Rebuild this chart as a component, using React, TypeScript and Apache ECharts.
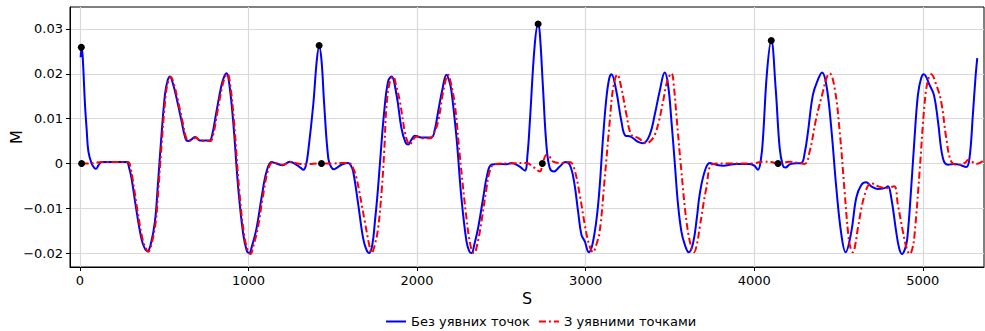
import React, { useEffect, useRef } from "react";
import * as echarts from "echarts";

// S, M pairs for the signal reconstructed without virtual points
const withoutVirtual: [number, number][] = [
  [4, 0.0237], [10, 0.0257], [16, 0.024], [30, 0.0131], [40, 0.0075], [50, 0.0027], [69, 0.0], [85, -0.001], [95, -0.0012],
  [110, -0.0004], [128, 0.0003], [170, 0.0003], [230, 0.0003], [277, 0.0003], [292, -0.001], [306, -0.0033], [336, -0.0107],
  [366, -0.017], [385, -0.019], [400, -0.0196], [420, -0.018], [445, -0.0129], [460, -0.006], [475, 0.0019], [504, 0.0153],
  [520, 0.0185], [534, 0.0194], [550, 0.018], [573, 0.0146], [603, 0.0094], [625, 0.0057], [640, 0.005], [660, 0.0053],
  [682, 0.0059], [700, 0.0054], [712, 0.0051], [767, 0.0051], [785, 0.0065], [810, 0.0116], [840, 0.0175], [858, 0.0196],
  [870, 0.0201], [885, 0.018], [909, 0.0094], [939, -0.0055], [969, -0.0159], [990, -0.0195], [1004, -0.02], [1020, -0.0185],
  [1048, -0.0144], [1077, -0.0077], [1107, -0.0018], [1137, 0.0003], [1165, 0.0], [1200, -0.0004], [1245, 0.0004],
  [1285, -0.0003], [1310, -0.001], [1325, -0.0014], [1340, -0.0005], [1354, 0.0027], [1384, 0.0131], [1405, 0.023],
  [1419, 0.0261], [1433, 0.023], [1449, 0.0131], [1473, 0.0012], [1490, -0.0008], [1508, -0.0013], [1530, -0.0008],
  [1552, -0.0003], [1591, 0.0001], [1608, -0.0005], [1621, -0.0018], [1651, -0.0092], [1680, -0.0167], [1700, -0.0193],
  [1716, -0.02], [1735, -0.018], [1750, -0.0129], [1765, -0.007], [1779, -0.0003], [1805, 0.0116], [1828, 0.0183],
  [1848, 0.0194], [1878, 0.0153], [1907, 0.0079], [1930, 0.0048], [1947, 0.0042], [1965, 0.0052], [1987, 0.0062],
  [2026, 0.0058], [2085, 0.0058], [2105, 0.0075], [2125, 0.0116], [2150, 0.0165], [2174, 0.0198], [2190, 0.0185],
  [2204, 0.0161], [2234, 0.0057], [2263, -0.0077], [2293, -0.0174], [2310, -0.0196], [2323, -0.02], [2340, -0.018],
  [2362, -0.0144], [2392, -0.0077], [2416, -0.0025], [2441, -0.0003], [2491, -0.0001], [2530, -0.0002], [2560, 0.0001],
  [2609, -0.0007], [2639, -0.0016], [2655, 0.002], [2669, 0.0094], [2698, 0.0265], [2718, 0.0311], [2728, 0.029],
  [2747, 0.0168], [2767, 0.0042], [2787, -0.001], [2813, -0.0018], [2846, -0.0007], [2880, 0.0003], [2906, -0.0003],
  [2931, -0.004], [2955, -0.0107], [2975, -0.0159], [2995, -0.0174], [3018, -0.0198], [3044, -0.0174], [3074, -0.0092],
  [3103, 0.0057], [3123, 0.0146], [3140, 0.019], [3153, 0.0199], [3182, 0.0161], [3212, 0.0094], [3236, 0.0062],
  [3267, 0.006], [3311, 0.0048], [3341, 0.0045], [3380, 0.0064], [3410, 0.0109], [3439, 0.0161], [3469, 0.0203],
  [3489, 0.0175], [3509, 0.0094], [3528, 0.0004], [3548, -0.0092], [3568, -0.0152], [3588, -0.0181], [3611, -0.0198],
  [3637, -0.0178], [3660, -0.012], [3676, -0.007], [3706, -0.0018], [3736, 0.0001], [3775, -0.0003], [3815, -0.0005],
  [3894, -0.0001], [3973, -0.0001], [4000, -0.0005], [4022, -0.0014], [4040, 0.001], [4052, 0.0057], [4076, 0.0205],
  [4101, 0.0274], [4127, 0.0168], [4151, 0.0034], [4170, -0.0005], [4186, -0.0009], [4210, -0.0002], [4230, 0.0],
  [4279, 0.0001], [4300, 0.0025], [4319, 0.0071], [4348, 0.0153], [4378, 0.0187], [4402, 0.0203], [4428, 0.0175],
  [4457, 0.0079], [4487, -0.0055], [4517, -0.0159], [4542, -0.0198], [4576, -0.0152], [4605, -0.0077], [4635, -0.0048],
  [4664, -0.0042], [4694, -0.0051], [4734, -0.0057], [4773, -0.0055], [4793, -0.0051], [4813, -0.0077], [4842, -0.0152],
  [4860, -0.019], [4876, -0.0202], [4895, -0.019], [4908, -0.0167], [4931, -0.0055], [4951, 0.0057], [4971, 0.0153],
  [4990, 0.019], [5006, 0.0199], [5040, 0.0175], [5066, 0.0153], [5090, 0.0094], [5119, 0.0012], [5149, -0.0003],
  [5188, -0.0001], [5218, -0.0003], [5258, -0.0008], [5277, 0.0012], [5297, 0.0109], [5313, 0.0194], [5323, 0.0235],
];

// S, M pairs for the signal reconstructed with virtual points
const withVirtual: [number, number][] = [
  [10, 0.0], [60, 0.0], [100, 0.0002], [150, 0.0003], [285, 0.0003], [300, -0.001], [312, -0.0033], [342, -0.0107],
  [372, -0.017], [392, -0.019], [405, -0.0197], [425, -0.018], [450, -0.0129], [465, -0.006], [480, 0.0019], [509, 0.0153],
  [525, 0.0185], [539, 0.0193], [555, 0.018], [578, 0.0146], [608, 0.0094], [630, 0.0057], [645, 0.005], [665, 0.0052],
  [687, 0.0058], [717, 0.005], [772, 0.005], [790, 0.0063], [815, 0.0114], [845, 0.0173], [863, 0.0195], [875, 0.02],
  [890, 0.018], [914, 0.0094], [944, -0.0055], [974, -0.0159], [997, -0.0196], [1012, -0.0202], [1028, -0.0185],
  [1055, -0.0144], [1084, -0.0077], [1114, -0.0018], [1142, 0.0002], [1170, 0.0], [1205, -0.0003], [1250, 0.0003],
  [1290, 0.0], [1340, -0.0002], [1400, 0.0], [1433, 0.0], [1500, 0.0], [1560, 0.0001], [1601, 0.0], [1620, -0.001],
  [1641, -0.0033], [1690, -0.013], [1715, -0.018], [1730, -0.02], [1750, -0.018], [1769, -0.0144], [1790, -0.006],
  [1805, 0.0027], [1819, 0.0131], [1840, 0.0185], [1858, 0.0194], [1875, 0.0175], [1898, 0.0138], [1927, 0.0071],
  [1945, 0.0047], [1957, 0.0042], [1975, 0.0052], [1996, 0.006], [2030, 0.0056], [2076, 0.0056], [2100, 0.0068],
  [2125, 0.0094], [2155, 0.016], [2184, 0.0198], [2200, 0.018], [2224, 0.0131], [2253, 0.0019], [2293, -0.0122],
  [2318, -0.0185], [2338, -0.02], [2360, -0.0175], [2382, -0.0129], [2410, -0.006], [2431, -0.0018], [2461, -0.0001],
  [2550, 0.0], [2649, 0.0001], [2690, -0.0008], [2728, -0.0018], [2745, 0.0], [2767, 0.0019], [2780, 0.0018],
  [2807, 0.0004], [2856, 0.0001], [2906, 0.0003], [2931, -0.001], [2965, -0.007], [2995, -0.0137], [3020, -0.018],
  [3044, -0.0198], [3060, -0.0185], [3083, -0.0152], [3113, -0.0033], [3143, 0.0094], [3163, 0.0168], [3188, 0.0198],
  [3212, 0.0168], [3242, 0.0109], [3271, 0.0064], [3311, 0.0057], [3360, 0.0045], [3385, 0.005], [3410, 0.0064],
  [3435, 0.0095], [3459, 0.0138], [3485, 0.0185], [3509, 0.0201], [3525, 0.0165], [3538, 0.0109], [3568, -0.0018],
  [3598, -0.0129], [3625, -0.0185], [3643, -0.0198], [3660, -0.018], [3676, -0.0144], [3716, -0.0055], [3755, -0.0001],
  [3850, 0.0], [3993, 0.0], [4052, 0.0004], [4100, 0.0003], [4141, 0.0], [4210, 0.0004], [4260, 0.0001], [4299, -0.0001],
  [4329, 0.0027], [4368, 0.0101], [4408, 0.0161], [4430, 0.0192], [4447, 0.0201], [4477, 0.0168], [4507, 0.0071],
  [4536, -0.0062], [4558, -0.0159], [4572, -0.019], [4585, -0.0198], [4600, -0.018], [4615, -0.0144], [4655, -0.007],
  [4694, -0.0044], [4734, -0.0051], [4783, -0.0055], [4829, -0.0051], [4852, -0.0092], [4882, -0.0152], [4905, -0.019],
  [4923, -0.0202], [4938, -0.019], [4951, -0.0159], [4981, -0.0018], [5010, 0.0131], [5030, 0.0185], [5050, 0.0199],
  [5080, 0.0175], [5109, 0.0138], [5139, 0.0057], [5169, 0.0004], [5208, -0.0003], [5248, 0.0001], [5271, 0.0008],
  [5317, -0.0001], [5366, 0.0008],
];

// Peak positions marked on the curves
const markedPoints: [number, number][] = [
  [8, 0.0259], [10, 0.0], [1419, 0.0263], [1433, 0.0], [2718, 0.0311], [2743, 0.0], [4101, 0.0274], [4141, 0.0],
];

const xTicks = [0, 1000, 2000, 3000, 4000, 5000];
const yTicks = [-0.02, -0.01, 0, 0.01, 0.02, 0.03];

const seriesNames = ["Без уявних точок", "З уявними точками"];

const FONT = "DejaVu Sans";

const fmtY = (v: number) => {
  if (Math.abs(v) < 1e-9) return "0";
  return (v < 0 ? "\u2212" : "") + Math.abs(v).toFixed(2);
};

export default function App() {
  const ref = useRef<HTMLDivElement>(null);

  useEffect(() => {
    if (!ref.current) return;
    const chart = echarts.init(ref.current, undefined, { renderer: "svg" });
    const gridLine = { show: true, lineStyle: { color: "#d9d9d9", width: 1.2 } };
    chart.setOption({
      animation: false,
      backgroundColor: "#ffffff",
      textStyle: { fontFamily: FONT },
      grid: {
        left: 70,
        right: 1,
        top: 7,
        bottom: 64,
        containLabel: false,
        outerBoundsMode: "none",
        show: true,
        borderColor: "#000",
        borderWidth: 1,
        backgroundColor: "transparent",
      },
      legend: {
        left: 380,
        top: 310,
        itemWidth: 20,
        itemHeight: 14,
        itemGap: 8,
        itemStyle: { opacity: 0 },
        textStyle: { fontFamily: FONT, fontSize: 13, color: "#000" },
        data: seriesNames,
      },
      xAxis: {
        type: "value",
        min: -59,
        max: 5363,
        name: "S",
        nameLocation: "middle",
        nameGap: 23,
        nameMoveOverlap: false,
        nameTextStyle: { fontFamily: FONT, fontSize: 16, color: "#000" },
        axisLine: { show: true, onZero: false, lineStyle: { color: "#000", width: 1 } },
        axisTick: { show: true, length: 4, customValues: xTicks, lineStyle: { color: "#000" } },
        axisLabel: {
          customValues: xTicks,
          fontFamily: FONT,
          fontSize: 13,
          color: "#000",
          margin: 7,
          formatter: (v: number) => String(v),
        },
        splitLine: gridLine,
      },
      yAxis: {
        type: "value",
        min: -0.0231,
        max: 0.0349,
        name: "M",
        nameLocation: "middle",
        nameGap: 46,
        nameRotate: 90,
        nameMoveOverlap: false,
        nameTextStyle: { fontFamily: FONT, fontSize: 16, color: "#000" },
        axisLine: { show: true, onZero: false, lineStyle: { color: "#000", width: 1 } },
        axisTick: { show: true, length: 4, customValues: yTicks, lineStyle: { color: "#000" } },
        axisLabel: {
          customValues: yTicks,
          fontFamily: FONT,
          fontSize: 13,
          color: "#000",
          margin: 7,
          formatter: fmtY,
        },
        splitLine: gridLine,
      },
      series: [
        {
          name: seriesNames[0],
          type: "line",
          data: withoutVirtual,
          showSymbol: false,
          symbol: "none",
          smooth: 0.4,
          lineStyle: { color: "#0000ff", width: 2 },
          itemStyle: { color: "#0000ff" },
          z: 3,
        },
        {
          name: seriesNames[1],
          type: "line",
          data: withVirtual,
          showSymbol: false,
          symbol: "none",
          smooth: 0.4,
          lineStyle: { color: "#ff0000", width: 2, type: [7, 3, 2, 3] },
          itemStyle: { color: "#ff0000" },
          z: 4,
        },
        {
          name: "points",
          type: "scatter",
          data: markedPoints,
          symbol: "circle",
          symbolSize: 7,
          itemStyle: { color: "#000", opacity: 1 },
          z: 5,
        },
      ],
    });
    return () => chart.dispose();
  }, []);

  return <div ref={ref} style={{ width: 985, height: 331, position: "absolute", left: 0, top: 0 }} />;
}
